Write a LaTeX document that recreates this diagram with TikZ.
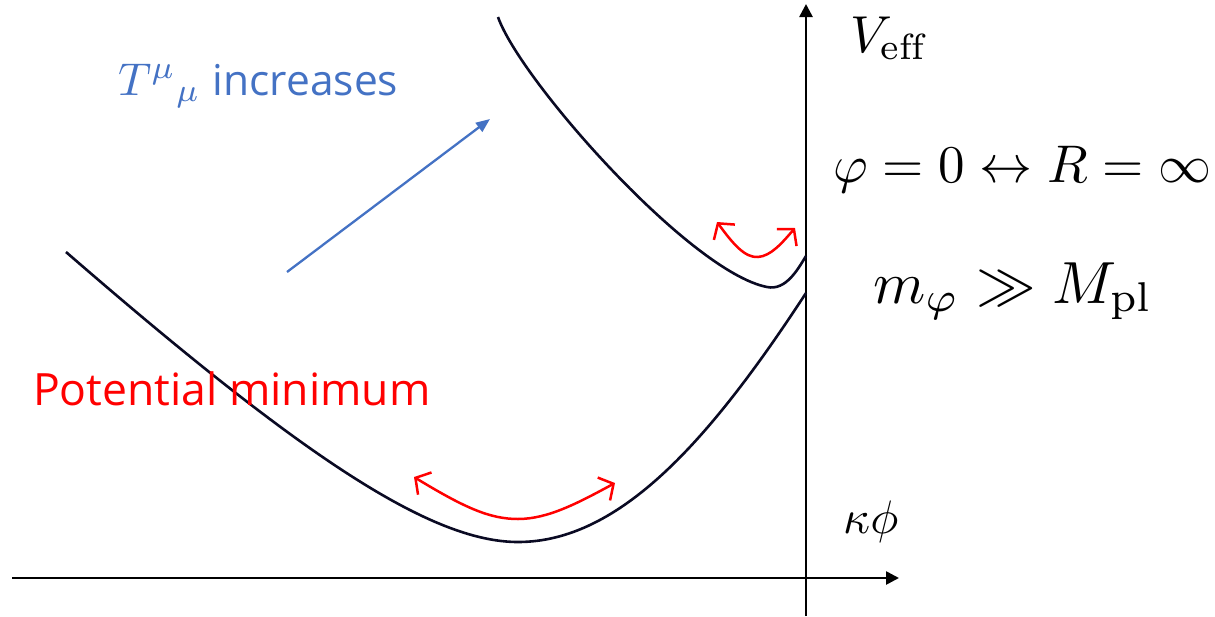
\documentclass[tikz,border=0pt]{standalone}
\usepackage{fontspec}
\usepackage{graphicx}
\newfontfamily\labelsans{Open Sans}
\usetikzlibrary{arrows.meta}
\definecolor{curvecol}{HTML}{0A0A23}
\definecolor{bluetxt}{HTML}{4472C4}
\definecolor{redtxt}{HTML}{FF0000}
\tikzset{
  axisline/.style={line width=2.6pt, black, -{Triangle[length=13pt,width=13pt]}},
  potcurve/.style={line width=2.6pt, curvecol},
  oscarrow/.style={line width=2.5pt, redtxt, {Straight Barb[length=11pt,width=26pt,line width=2.5pt]}-{Straight Barb[length=11pt,width=26pt,line width=2.5pt]}},
  shiftarrow/.style={line width=2.3pt, bluetxt, -{Triangle[length=14pt,width=11pt]}},
  lbl/.style={inner sep=0pt, anchor=base west}
}
\begin{document}
\begin{tikzpicture}[x=1pt,y=-1pt]
\useasboundingbox (0,0) rectangle (1215,616);
% axes
\coordinate (xstart) at (12,578);
\coordinate (xend) at (899,578);
\coordinate (ystart) at (806,616);
\coordinate (yend) at (806,4);
\draw[axisline] (xstart) -- (xend);
\draw[axisline] (ystart) -- (yend);
% lower curve
\coordinate (lA) at (66,252);
\coordinate (lM) at (518,542);
\coordinate (lB) at (806,293);
\draw[potcurve] (lA) .. controls (300,455) and (430,542) .. (lM)
  .. controls (620,542) and (710,440) .. (lB);
% upper curve
\coordinate (uA) at (498,17);
\coordinate (uM) at (767,287);
\coordinate (uB) at (806,256);
\draw[potcurve] (uA) .. controls (520,80) and (690,272) .. (uM)
  .. controls (786,291) and (798,269) .. (uB);
% red oscillation arrows
\coordinate (rl1) at (414,477);
\coordinate (rl2) at (518,519);
\coordinate (rl3) at (615,483);
\draw[oscarrow] (rl1) .. controls (465,508) and (490,519) .. (rl2)
  .. controls (548,519) and (578,503) .. (rl3);
\coordinate (ru1) at (717,222);
\coordinate (ru2) at (758,257);
\coordinate (ru3) at (795,228);
\draw[oscarrow] (ru1) .. controls (733,244) and (745,258) .. (ru2)
  .. controls (771,256) and (782,243) .. (ru3);
% blue arrow
\coordinate (b1) at (287,272);
\coordinate (b2) at (490,119);
\draw[shiftarrow] (b1) -- (b2);
% labels
\node[lbl, text=bluetxt] (tinc) at (118,95) {\scalebox{4.6}{$T^{\mu}{}_{\mu}$}\hspace{12pt}{\labelsans\fontsize{42.5}{50}\selectfont increases}};
\node[lbl, text=redtxt] (potmin) at (33,405) {\labelsans\fontsize{44.5}{52}\selectfont Potential minimum};
\node[lbl] (veff) at (850,52) {\scalebox{5.2}{$V_{\mathrm{eff}}$}};
\node[lbl] (kphi) at (843,533) {\scalebox{4.7}{$\kappa\phi$}};
\node[lbl] (eq1) at (833,182) {\scalebox{5.3}{$\varphi = 0 \leftrightarrow R = \infty$}};
\node[lbl] (eq2) at (873,303) {\scalebox{5.95}{$m_{\varphi} \gg M_{\mathrm{pl}}$}};
\end{tikzpicture}
\end{document}
